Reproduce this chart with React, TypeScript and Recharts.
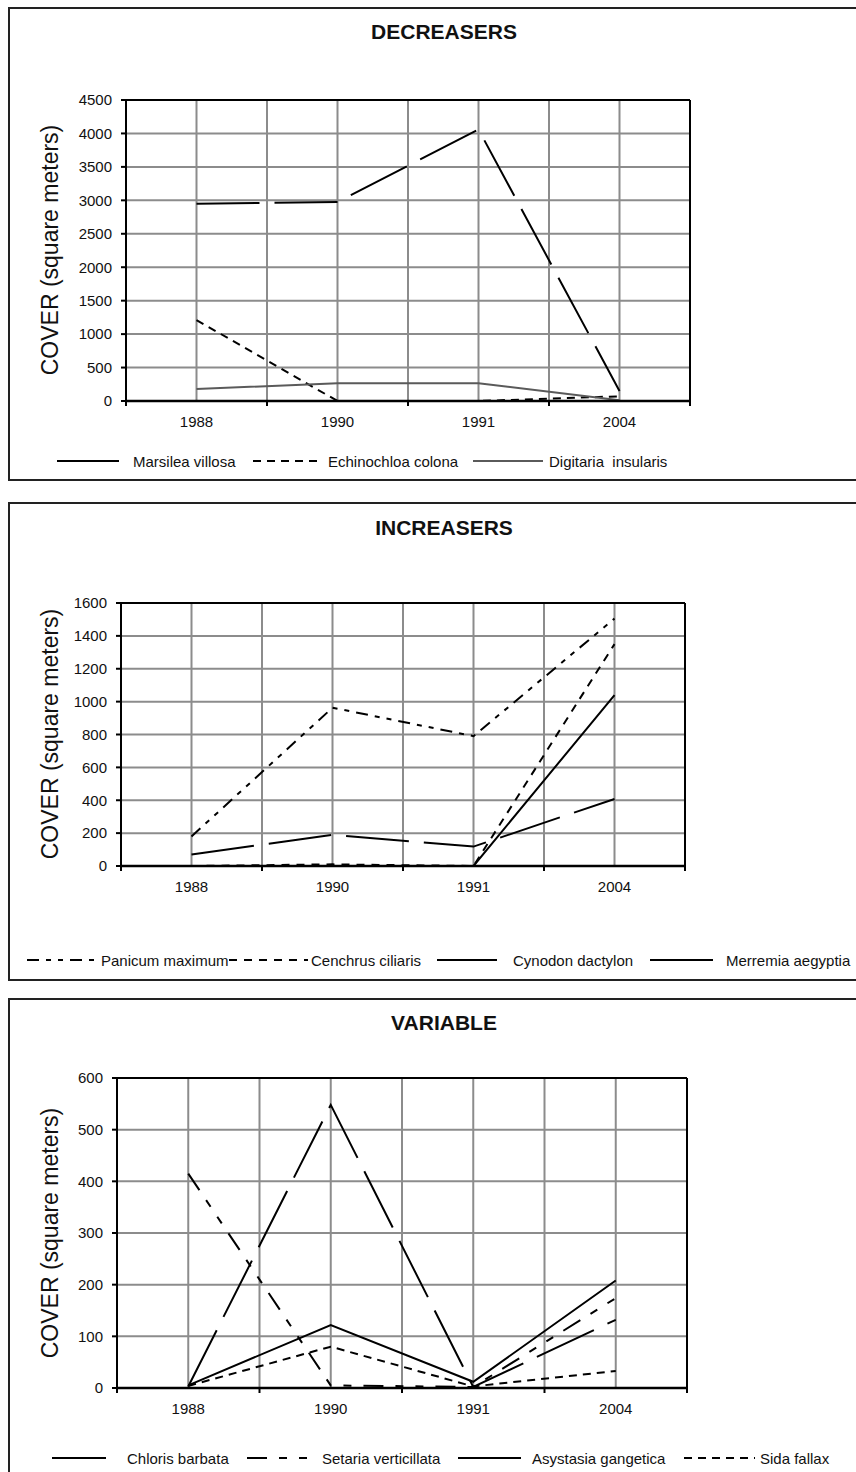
import React from 'react';
import { LineChart, Line, XAxis, YAxis, CartesianGrid, ReferenceLine } from 'recharts';

// ---------- data ----------
const years = ['1988', '1990', '1991', '2004'];

// DECREASERS
const marsileaVillosa = [2950, 2975, 4060, 150];
const echinochloaColona = [1210, 0, 0, 70];
const digitariaInsularis = [180, 265, 265, 12];
const decreaserTicks = [0, 500, 1000, 1500, 2000, 2500, 3000, 3500, 4000, 4500];

// INCREASERS
const panicumMaximum = [180, 963, 790, 1505];
const cenchrusCiliaris = [0, 10, 0, 1350];
const cynodonDactylon = [0, 0, 0, 1040];
const merremiaAegyptia = [70, 190, 118, 408];
const increaserTicks = [0, 200, 400, 600, 800, 1000, 1200, 1400, 1600];

// VARIABLE
const chlorisBarbata = [5, 122, 12, 208];
const setariaVerticillata = [415, 5, 2, 174];
const asystasiaGangetica = [3, 548, 2, 132];
const sidaFallax = [4, 80, 3, 33];
const variableTicks = [0, 100, 200, 300, 400, 500, 600];

// x ticks: category centres (integers) and boundaries (halves)
const xTicks = [-0.5, 0, 0.5, 1, 1.5, 2, 2.5, 3, 3.5];

// ---------- styling / layout ----------
const FONT = '"Liberation Sans", Arial, Helvetica, sans-serif';
const GRID = '#8c8c8c';

type Series = {
  key: string;
  name: string;
  values: number[];
  stroke: string;
  dash?: string;
  legend: { x1: number; x2: number; tx: number };
};

type PanelCfg = {
  title: string;
  boxTop: number;
  boxHeight: number;
  chartTop: number;
  chartHeight: number;
  margin: { top: number; right: number; bottom: number; left: number };
  yTicks: number[];
  titleY: number;
  labelY: number;
  legendY: number;
  series: Series[];
};

const panels: PanelCfg[] = [
  {
    title: 'DECREASERS',
    boxTop: 7,
    boxHeight: 474,
    chartTop: 0,
    chartHeight: 480,
    margin: { top: 100, right: 166, bottom: 49, left: 66 },
    yTicks: decreaserTicks,
    titleY: 32,
    labelY: 250,
    legendY: 461,
    series: [
      { key: 'mv', name: 'Marsilea villosa', values: marsileaVillosa, stroke: '#000', dash: '63 15', legend: { x1: 57, x2: 119, tx: 133 } },
      { key: 'ec', name: 'Echinochloa colona', values: echinochloaColona, stroke: '#000', dash: '8 6', legend: { x1: 253, x2: 322, tx: 328 } },
      { key: 'di', name: 'Digitaria  insularis', values: digitariaInsularis, stroke: '#5a5a5a', legend: { x1: 473, x2: 543, tx: 549 } },
    ],
  },
  {
    title: 'INCREASERS',
    boxTop: 502,
    boxHeight: 479,
    chartTop: 490,
    chartHeight: 490,
    margin: { top: 113, right: 171, bottom: 84, left: 61 },
    yTicks: increaserTicks,
    titleY: 528,
    labelY: 734,
    legendY: 960,
    series: [
      { key: 'pm', name: 'Panicum maximum', values: panicumMaximum, stroke: '#000', dash: '12 7 5 7 5 7', legend: { x1: 27, x2: 97, tx: 101 } },
      { key: 'cc', name: 'Cenchrus ciliaris', values: cenchrusCiliaris, stroke: '#000', dash: '8 7', legend: { x1: 229, x2: 308, tx: 311 } },
      { key: 'cd', name: 'Cynodon dactylon', values: cynodonDactylon, stroke: '#000', legend: { x1: 437, x2: 497, tx: 513 } },
      { key: 'ma', name: 'Merremia aegyptia', values: merremiaAegyptia, stroke: '#000', dash: '63 15', legend: { x1: 650, x2: 726, tx: 726 } },
    ],
  },
  {
    title: 'VARIABLE',
    boxTop: 998,
    boxHeight: 600,
    chartTop: 990,
    chartHeight: 482,
    margin: { top: 88, right: 169, bottom: 54, left: 57 },
    yTicks: variableTicks,
    titleY: 1023,
    labelY: 1233,
    legendY: 1458,
    series: [
      { key: 'cb', name: 'Chloris barbata', values: chlorisBarbata, stroke: '#000', legend: { x1: 52, x2: 106, tx: 127 } },
      { key: 'sv', name: 'Setaria verticillata', values: setariaVerticillata, stroke: '#000', dash: '20 12 8 12 8 12', legend: { x1: 247, x2: 317, tx: 322 } },
      { key: 'ag', name: 'Asystasia gangetica', values: asystasiaGangetica, stroke: '#000', dash: '63 15', legend: { x1: 458, x2: 527, tx: 532 } },
      { key: 'sf', name: 'Sida fallax', values: sidaFallax, stroke: '#000', dash: '8 6', legend: { x1: 684, x2: 755, tx: 760 } },
    ],
  },
];

const XTick = (props: any) => {
  const { x, y, payload } = props;
  const v = payload.value as number;
  if (Number.isInteger(v)) {
    return (
      <text x={x} y={y + 20} textAnchor="middle" dominantBaseline="central" fontSize={15} fontFamily={FONT} fill="#111">
        {years[v]}
      </text>
    );
  }
  return <line x1={x} x2={x} y1={y} y2={y + 5} stroke="#000" strokeWidth={2} />;
};

const Panel = ({ cfg }: { cfg: PanelCfg }) => {
  const rows = years.map((yr, i) => {
    const r: Record<string, number | string> = { idx: i, year: yr };
    cfg.series.forEach((s) => (r[s.key] = s.values[i]));
    return r;
  });
  const yMax = cfg.yTicks[cfg.yTicks.length - 1];
  return (
    <>
      <div
        style={{
          position: 'absolute',
          left: 8,
          top: cfg.boxTop,
          width: 900,
          height: cfg.boxHeight,
          border: '2px solid #222',
          boxSizing: 'border-box',
        }}
      />
      <div
        style={{
          position: 'absolute',
          left: 444,
          top: cfg.titleY,
          transform: 'translate(-50%, -50%)',
          fontFamily: FONT,
          fontWeight: 'bold',
          fontSize: 21,
          color: '#111',
          whiteSpace: 'nowrap',
        }}
      >
        {cfg.title}
      </div>
      <div
        style={{
          position: 'absolute',
          left: 50,
          top: cfg.labelY,
          transform: 'translate(-50%, -50%) rotate(-90deg)',
          fontFamily: FONT,
          fontSize: 23,
          color: '#111',
          whiteSpace: 'nowrap',
        }}
      >
        COVER (square meters)
      </div>
      <div style={{ position: 'absolute', left: 0, top: cfg.chartTop }}>
        <LineChart width={856} height={cfg.chartHeight} data={rows} margin={cfg.margin}>
          <CartesianGrid stroke={GRID} strokeWidth={2} />
          <XAxis
            dataKey="idx"
            type="number"
            domain={[-0.5, 3.5]}
            ticks={xTicks}
            interval={0}
            height={30}
            tickSize={0}
            tickMargin={0}
            tickLine={false}
            tick={<XTick />}
            axisLine={{ stroke: '#000', strokeWidth: 2.5 }}
          />
          <YAxis
            type="number"
            domain={[0, yMax]}
            ticks={cfg.yTicks}
            interval={0}
            width={60}
            tickSize={5}
            tickMargin={9}
            tickLine={{ stroke: '#000', strokeWidth: 2 }}
            axisLine={{ stroke: '#000', strokeWidth: 2 }}
            tick={{ fontSize: 15, fontFamily: FONT, fill: '#111' }}
          />
          <ReferenceLine y={yMax} stroke="#000" strokeWidth={2} />
          <ReferenceLine x={3.5} stroke="#000" strokeWidth={2} />
          {cfg.series.map((s) => (
            <Line
              key={s.key}
              dataKey={s.key}
              name={s.name}
              type="linear"
              stroke={s.stroke}
              strokeWidth={2}
              strokeDasharray={s.dash}
              dot={false}
              activeDot={false}
              isAnimationActive={false}
            />
          ))}
        </LineChart>
      </div>
      <svg style={{ position: 'absolute', left: 0, top: cfg.legendY - 12 }} width={856} height={24}>
        {cfg.series.map((s) => (
          <g key={s.key}>
            <line x1={s.legend.x1} x2={s.legend.x2} y1={12} y2={12} stroke={s.stroke} strokeWidth={2} strokeDasharray={s.dash} />
            <text x={s.legend.tx} y={12} dominantBaseline="central" fontSize={15} fontFamily={FONT} fill="#111" style={{ whiteSpace: 'pre' }}>
              {s.name}
            </text>
          </g>
        ))}
      </svg>
    </>
  );
};

export default function App() {
  return (
    <>
      <style>{`html,body{margin:0;padding:0;overflow:hidden;background:#fff;}`}</style>
      <div style={{ position: 'relative', width: 856, height: 1472, overflow: 'hidden', background: '#fff' }}>
        {panels.map((p) => (
          <Panel key={p.title} cfg={p} />
        ))}
      </div>
    </>
  );
}
